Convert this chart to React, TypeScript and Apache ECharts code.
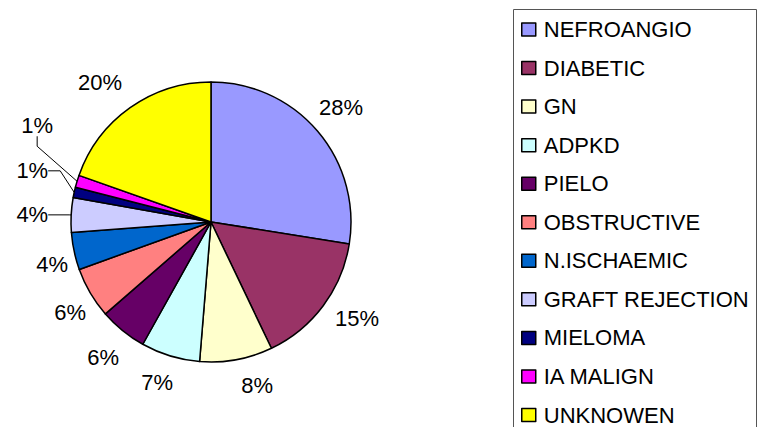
import React, { useEffect, useRef } from "react";
import * as echarts from "echarts";

const categories = [
  "NEFROANGIO",
  "DIABETIC",
  "GN",
  "ADPKD",
  "PIELO",
  "OBSTRUCTIVE",
  "N.ISCHAEMIC",
  "GRAFT REJECTION",
  "MIELOMA",
  "IA MALIGN",
  "UNKNOWEN",
];
const values = [27.5, 15.4, 8.4, 6.8, 5.5, 5.9, 4.3, 4.0, 1.2, 1.4, 19.6];
const colors = [
  "#9999FF",
  "#993366",
  "#FFFFCC",
  "#CCFFFF",
  "#660066",
  "#FF8080",
  "#0066CC",
  "#CCCCFF",
  "#000080",
  "#FF00FF",
  "#FFFF00",
];

// label placement styling (radial length / horizontal length of the label line)
const labelLen = [35.6, 20.6, 26.6, 28.2, 34, 37.9, 64.8, 2, 0, 0, 30.4];
const labelLen2 = [-25.5, -4.8, 0, -10.9, -17.8, -28.4, -57.3, 21, 12, 10, -9.5];
const showLine = [false, false, false, false, false, false, false, true, true, true, false];
const labelShift: Record<number, [number, number]> = { 8: [-14, -21.5], 9: [-14, -56] };

export default function App() {
  const ref = useRef<HTMLDivElement>(null);
  useEffect(() => {
    if (!ref.current) return;
    const chart = echarts.init(ref.current, null, { renderer: "svg" });
    const font = "'Liberation Sans', Arial, sans-serif";
    chart.setOption({
      animation: false,
      backgroundColor: "#ffffff",
      graphic: [
        {
          type: "rect",
          shape: { x: 513.5, y: 9.5, width: 243, height: 500 },
          style: { fill: "#ffffff", stroke: "#555555", lineWidth: 1 },
          z: -1,
        },
      ],
      legend: {
        orient: "vertical",
        left: 521,
        top: 18.5,
        padding: 0,
        itemWidth: 14,
        itemHeight: 13,
        itemGap: 16.55,
        icon: "rect",
        itemStyle: { borderColor: "#000", borderWidth: 1.5 },
        textStyle: {
          fontFamily: font,
          fontSize: 22,
          lineHeight: 22,
          color: "#000",
          padding: [0, 0, 0, 3],
        },
        data: categories,
      },
      series: [
        {
          type: "pie",
          center: [211, 222],
          radius: 140,
          startAngle: 90,
          clockwise: true,
          avoidLabelOverlap: false,
          emphasis: { disabled: true },
          itemStyle: { borderColor: "#000", borderWidth: 1.5 },
          label: {
            show: true,
            position: "outside",
            alignTo: "none",
            distanceToLabelLine: 0,
            fontFamily: font,
            fontSize: 22,
            color: "#000",
            formatter: (p: any) => Math.round(p.percent) + "%",
          },
          labelLine: {
            lineStyle: { color: "#000", width: 1 },
          },
          labelLayout: (params: any) => {
            const s = labelShift[params.dataIndex];
            if (!s) return {};
            const r = params.labelRect;
            return {
              x: r.x + r.width + s[0],
              y: r.y + r.height / 2 + s[1],
              align: "right",
              verticalAlign: "middle",
            };
          },
          data: categories.map((name, i) => ({
            name,
            value: values[i],
            itemStyle: { color: colors[i] },
            labelLine: {
              show: showLine[i],
              length: labelLen[i],
              length2: labelLen2[i],
              smooth: false,
            },
          })),
        },
      ],
    });
    return () => chart.dispose();
  }, []);
  return (
    <div
      ref={ref}
      style={{ position: "fixed", left: 0, top: 0, width: 758, height: 427 }}
    />
  );
}
